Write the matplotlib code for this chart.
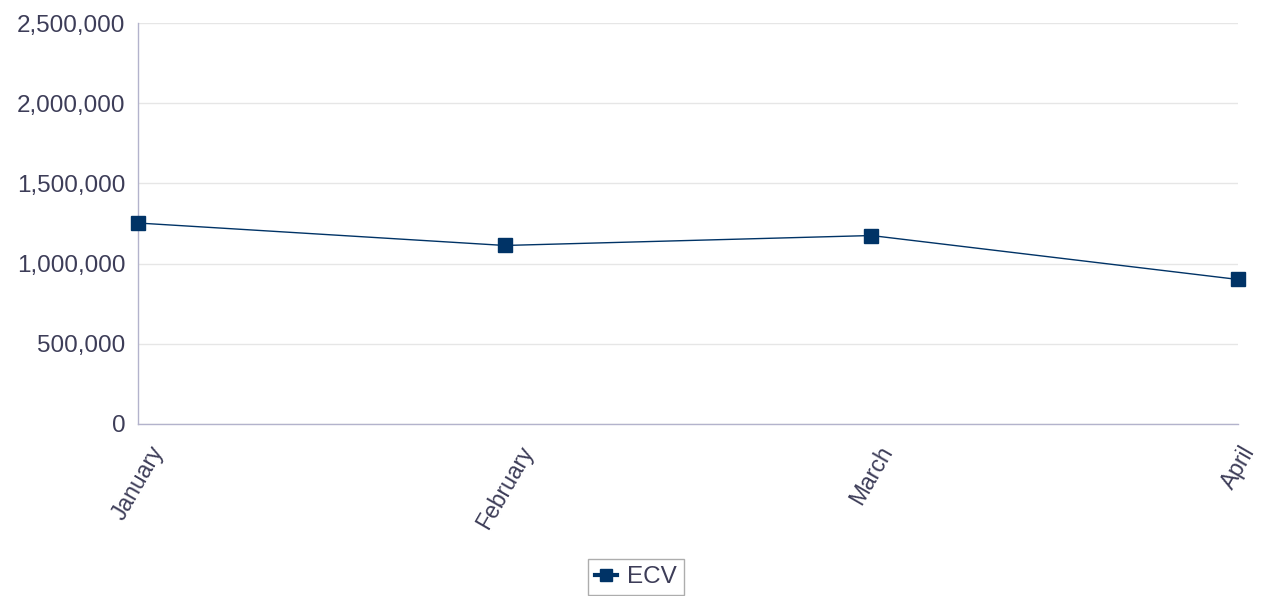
import matplotlib
matplotlib.use("Agg")
import matplotlib.pyplot as plt
from matplotlib.ticker import FuncFormatter

months = ["January", "February", "March", "April"]
ecv = [1253000, 1113000, 1175000, 901000]
y_ticks = [0, 500000, 1000000, 1500000, 2000000, 2500000]

plt.rcParams["font.family"] = ["Liberation Sans", "DejaVu Sans"]

navy = "#003366"
text_col = "#3d3d58"
axis_col = "#b3b3cc"

fig = plt.figure(figsize=(12.63, 5.96), dpi=100)
ax = fig.add_axes([0.1093, 0.2886, 0.8710, 0.6728])

x = list(range(len(months)))
ax.plot(x, ecv, color=navy, linewidth=1, marker="s", markersize=9.5,
        label="ECV", zorder=3, clip_on=False)

ax.set_xlim(0, len(months) - 1)
ax.set_ylim(0, 2500000)
ax.set_yticks(y_ticks)
ax.yaxis.set_major_formatter(FuncFormatter(lambda v, p: f"{int(v):,}"))
ax.set_xticks(x)
ax.set_xticklabels(months, rotation=60)

ax.grid(axis="y", color="#e6e6e6", linewidth=1)
ax.set_axisbelow(True)
for side in ["top", "right"]:
    ax.spines[side].set_visible(False)
for side in ["left", "bottom"]:
    ax.spines[side].set_color(axis_col)
    ax.spines[side].set_linewidth(1)

ax.tick_params(axis="y", length=0, pad=9, labelsize=17.5, labelcolor=text_col)
ax.tick_params(axis="x", length=0, pad=13, labelsize=16.5, labelcolor=text_col)

leg = fig.legend(loc="center", bbox_to_anchor=(636 / 1263, 1 - 577 / 596),
                 fontsize=17.5, frameon=True, fancybox=False, handlelength=0.9,
                 handletextpad=0.4, borderpad=0.3, markerscale=0.85)
leg.get_frame().set_edgecolor("#999999")
leg.get_frame().set_linewidth(1)
for t in leg.get_texts():
    t.set_color(text_col)
for h in leg.legend_handles:
    h.set_linewidth(3)

plt.savefig("out.png", dpi=100)
